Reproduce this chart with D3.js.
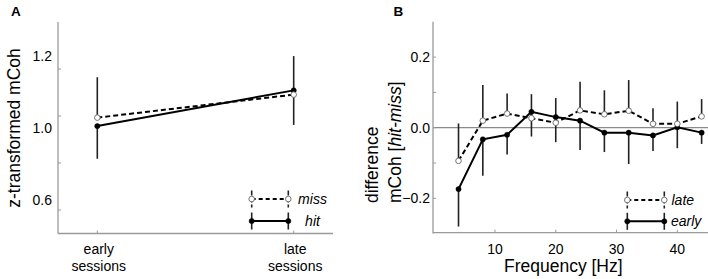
<!DOCTYPE html>
<html><head><meta charset="utf-8">
<script src="https://cdn.jsdelivr.net/npm/d3@7"></script>
<style>
body{margin:0;background:#fff;}
svg{display:block;font-family:"Liberation Sans",Arial,Helvetica,sans-serif;}
</style></head>
<body>
<svg id="c" width="708" height="279"></svg>
<script>
// ---------- Panel A data ----------
const sessions = ["early", "late"];
const sessionLabels = [["early","sessions"],["late","sessions"]];
const aMissMean  = [0.993, 1.091];
const aMissUpper = [1.165, 1.255];
const aHitMean   = [0.957, 1.109];
const aHitLower  = [0.818, 0.962];
const aTickMarks = [1.2, 1.0, 0.8, 0.6];
const aTickLabels = [1.2, 1.0, 0.6];

// ---------- Panel B data ----------
const freqs = [4, 8, 12, 16, 20, 24, 28, 32, 36, 40, 44];
const lateMean  = [-0.094, 0.020, 0.040, 0.027, 0.014, 0.049, 0.038, 0.048, 0.011, 0.011, 0.032];
const lateUpper = [0.012, 0.121, 0.097, 0.095, 0.084, 0.130, 0.106, 0.135, 0.055, 0.074, 0.081];
const earlyMean  = [-0.174, -0.033, -0.020, 0.045, 0.030, 0.020, -0.014, -0.014, -0.022, 0.001, -0.014];
const earlyLower = [-0.280, -0.136, -0.076, -0.025, -0.041, -0.063, -0.069, -0.103, -0.066, -0.058, -0.046];
const bXTicks = [10, 20, 30, 40];
const bYTickMarks = [-0.2, -0.1, 0, 0.1, 0.2];
const bYTickLabels = [-0.2, 0, 0.2];

const svg = d3.select("#c");
const AX = "#9a9a9a", BAR = "#222", OPEN = "#666";

function drawSeries(g, xs, ys, mean, ends, dashed, open){
  // error bars
  g.selectAll(null).data(mean).enter().append("line")
    .attr("x1",(d,i)=>xs(i)).attr("x2",(d,i)=>xs(i))
    .attr("y1",d=>ys(d)).attr("y2",(d,i)=>ys(ends[i]))
    .attr("stroke",BAR).attr("stroke-width",1.6);
}
function drawLine(g, xs, ys, mean, dashed){
  const line = d3.line().x((d,i)=>xs(i)).y(d=>ys(d));
  g.append("path").datum(mean).attr("d",line).attr("fill","none")
    .attr("stroke","#000").attr("stroke-width",2)
    .attr("stroke-dasharray",dashed?"5,3":null);
}
function drawDots(g, xs, ys, mean, open){
  g.selectAll(null).data(mean).enter().append("circle")
    .attr("cx",(d,i)=>xs(i)).attr("cy",d=>ys(d))
    .attr("r",open?2.8:2.6)
    .attr("fill",open?"#fff":"#000")
    .attr("stroke",open?OPEN:"#000").attr("stroke-width",open?0.9:0.5);
}
function legendRow(g, x1, x2, y, dashed, open, label, tx, anchor){
  g.append("line").attr("x1",x1).attr("x2",x2).attr("y1",y).attr("y2",y)
    .attr("stroke","#000").attr("stroke-width",2).attr("stroke-dasharray",dashed?"4,3":null);
  [x1,x2].forEach(x=>{
    g.append("line").attr("x1",x).attr("x2",x).attr("y1",y-8.5).attr("y2",y+8.5)
      .attr("stroke",BAR).attr("stroke-width",1.6).attr("stroke-dasharray",dashed?"5,2":null);
    g.append("circle").attr("cx",x).attr("cy",y).attr("r",open?2.8:2.6)
      .attr("fill",open?"#fff":"#000").attr("stroke",open?OPEN:"#000").attr("stroke-width",open?0.9:0.5);
  });
  g.append("text").attr("x",tx).attr("y",y+5).attr("text-anchor",anchor)
    .attr("font-size",14).attr("font-style","italic").text(label);
}

// ================= Panel A =================
{
  const g = svg.append("g");
  const x = d3.scalePoint().domain(sessions).range([97.3, 293.7]);
  const y = d3.scaleLinear().domain([0.5, 1.4]).range([233.5, 22]);
  const yLab = d3.scaleLinear().domain([1.2, 1.0, 0.6]).range([60.5, 132.5, 204.5]);
  const xi = i => x(sessions[i]);

  // axes lines
  g.append("line").attr("x1",58).attr("x2",58).attr("y1",y(1.4)).attr("y2",y(0.5))
    .attr("stroke",AX).attr("stroke-width",1.3);
  g.append("line").attr("x1",58).attr("x2",333).attr("y1",y(0.5)).attr("y2",y(0.5))
    .attr("stroke",AX).attr("stroke-width",1.3);
  // y tick marks (inward)
  g.selectAll(null).data(aTickMarks).enter().append("line")
    .attr("x1",58).attr("x2",61).attr("y1",d=>y(d)).attr("y2",d=>y(d))
    .attr("stroke",AX).attr("stroke-width",1);
  g.selectAll(null).data(aTickLabels).enter().append("text")
    .attr("x",52).attr("y",d=>yLab(d)).attr("text-anchor","end")
    .attr("font-size",14).text(d=>d3.format(".1f")(d));
  // x ticks
  g.selectAll(null).data(sessions).enter().append("line")
    .attr("x1",d=>x(d)).attr("x2",d=>x(d)).attr("y1",y(0.5)).attr("y2",y(0.5)-3)
    .attr("stroke",AX).attr("stroke-width",1);
  sessionLabels.forEach((lines,i)=>{
    lines.forEach((t,j)=>{
      g.append("text").attr("x",x(sessions[i])+1.5).attr("y",254+j*16.8)
        .attr("text-anchor","middle").attr("font-size",14).text(t);
    });
  });
  // axis title
  g.append("text").attr("transform","translate(20,128) rotate(-90)")
    .attr("text-anchor","middle").attr("font-size",17.5).text("z-transformed mCoh");
  g.append("text").attr("x",11).attr("y",15.5).attr("font-size",13.5)
    .attr("font-weight","bold").text("A");

  drawSeries(g, xi, y, aMissMean, aMissUpper);
  drawSeries(g, xi, y, aHitMean, aHitLower);
  drawLine(g, xi, y, aHitMean, false);
  drawLine(g, xi, y, aMissMean, true);
  drawDots(g, xi, y, aHitMean, false);
  drawDots(g, xi, y, aMissMean, true);

  legendRow(g, 251.7, 288.3, 199, true, true, "miss", 312.5, "middle");
  legendRow(g, 251.7, 288.3, 221, false, false, "hit", 312.5, "middle");
}

// ================= Panel B =================
{
  const g = svg.append("g");
  const x = d3.scaleLinear().domain([0, 45]).range([434.2, 707.7]);
  const y = d3.scaleLinear().domain([-0.3, 0.3]).range([233.6, 21.8]);
  const xi = i => x(freqs[i]);
  const x0 = 433;

  g.append("line").attr("x1",x0).attr("x2",x0).attr("y1",y(0.3)).attr("y2",y(-0.3))
    .attr("stroke",AX).attr("stroke-width",1.3);
  g.append("line").attr("x1",x0).attr("x2",708).attr("y1",232.7).attr("y2",232.7)
    .attr("stroke",AX).attr("stroke-width",1.3);
  // zero line
  g.append("line").attr("x1",x0).attr("x2",708).attr("y1",y(0)).attr("y2",y(0))
    .attr("stroke","#8a8a8a").attr("stroke-width",1.2);
  g.selectAll(null).data(bYTickMarks).enter().append("line")
    .attr("x1",x0).attr("x2",x0+3).attr("y1",d=>y(d)).attr("y2",d=>y(d))
    .attr("stroke",AX).attr("stroke-width",1);
  g.selectAll(null).data(bYTickLabels).enter().append("text")
    .attr("x",430).attr("y",d=>y(d)+5).attr("text-anchor","end")
    .attr("font-size",14).text(d=>d3.format(".1f")(d));
  g.selectAll(null).data(bXTicks).enter().append("line")
    .attr("x1",d=>x(d)).attr("x2",d=>x(d)).attr("y1",232.7).attr("y2",229.7)
    .attr("stroke",AX).attr("stroke-width",1);
  g.selectAll(null).data(bXTicks).enter().append("text")
    .attr("x",d=>x(d)).attr("y",253.5).attr("text-anchor","middle")
    .attr("font-size",14).text(d=>d);
  g.append("text").attr("x",563.3).attr("y",271.5).attr("text-anchor","middle")
    .attr("font-size",17.5).text("Frequency [Hz]");
  g.append("text").attr("transform","translate(377.5,203) rotate(-90)")
    .attr("font-size",17.5).text("difference");
  const t2 = g.append("text").attr("transform","translate(400.5,203) rotate(-90)")
    .attr("font-size",17.5);
  t2.append("tspan").text("mCoh [");
  t2.append("tspan").attr("font-style","italic").text("hit-miss");
  t2.append("tspan").text("]");
  g.append("text").attr("x",393.5).attr("y",15.5).attr("font-size",13.5)
    .attr("font-weight","bold").text("B");

  drawSeries(g, xi, y, lateMean, lateUpper);
  drawSeries(g, xi, y, earlyMean, earlyLower);
  drawLine(g, xi, y, earlyMean, false);
  drawLine(g, xi, y, lateMean, true);
  drawDots(g, xi, y, earlyMean, false);
  drawDots(g, xi, y, lateMean, true);

  legendRow(g, 627.3, 664.3, 200, true, true, "late", 671.5, "start");
  legendRow(g, 627.3, 664.3, 221.3, false, false, "early", 671, "start");
}
</script>
</body></html>
